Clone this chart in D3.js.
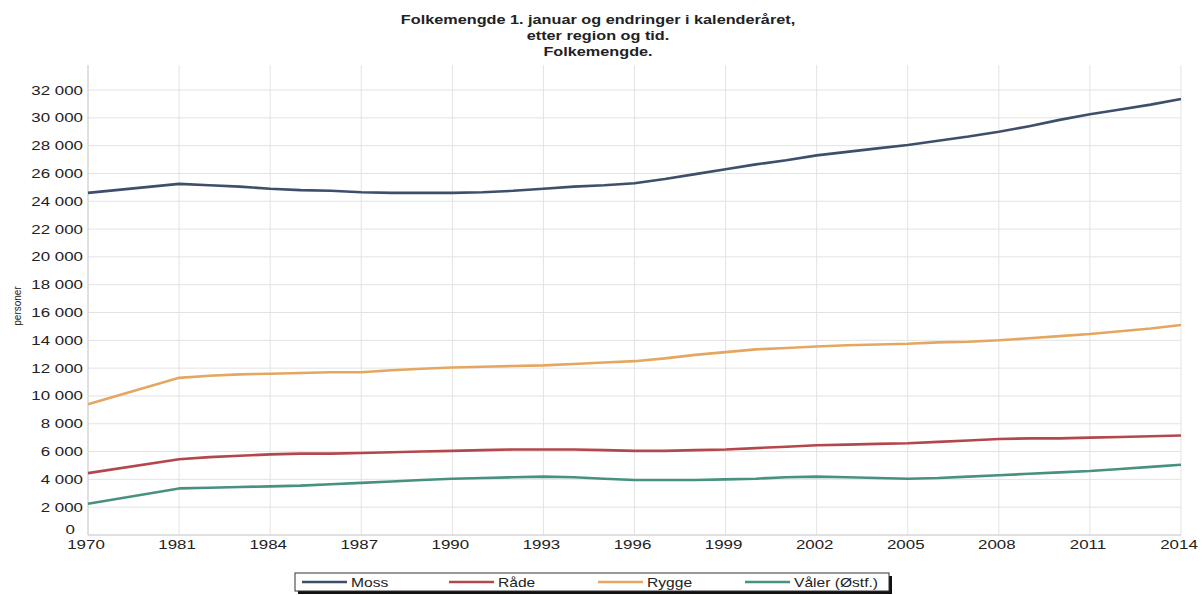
<!DOCTYPE html>
<html><head><meta charset="utf-8">
<script src="https://cdn.jsdelivr.net/npm/d3@7/dist/d3.min.js"></script>
<style>
body{margin:0;background:#fff;}
svg{display:block;}
text{font-family:"Liberation Sans",Arial,sans-serif;fill:#222;}
</style></head><body>
<svg id="chart" width="1204" height="595"></svg>
<script>
const years = [1970,1981,1982,1983,1984,1985,1986,1987,1988,1989,1990,1991,1992,1993,1994,1995,1996,1997,1998,1999,2000,2001,2002,2003,2004,2005,2006,2007,2008,2009,2010,2011,2012,2013,2014];
const xTickLabels = ["1970","1981","1984","1987","1990","1993","1996","1999","2002","2005","2008","2011","2014"];
const yTicks = [0,2000,4000,6000,8000,10000,12000,14000,16000,18000,20000,22000,24000,26000,28000,30000,32000];
const seriesNames = ["Moss","Råde","Rygge","Våler (Østf.)"];
const moss  = [24600,25250,25150,25050,24900,24800,24750,24650,24600,24600,24600,24650,24750,24900,25050,25150,25300,25600,25950,26300,26650,26950,27300,27550,27800,28050,28350,28650,29000,29400,29850,30250,30600,30950,31350];
const rade  = [4450,5450,5600,5700,5800,5850,5850,5900,5950,6000,6050,6100,6150,6150,6150,6100,6050,6050,6100,6150,6250,6350,6450,6500,6550,6600,6700,6800,6900,6950,6950,7000,7050,7100,7150];
const rygge = [9400,11300,11450,11550,11600,11650,11700,11700,11850,11950,12050,12100,12150,12200,12300,12400,12500,12700,12950,13150,13350,13450,13550,13650,13700,13750,13850,13900,14000,14150,14300,14450,14650,14850,15100];
const valer = [2250,3350,3400,3450,3500,3550,3650,3750,3850,3950,4050,4100,4150,4200,4150,4050,3950,3950,3950,4000,4050,4150,4200,4150,4100,4050,4100,4200,4300,4400,4500,4600,4750,4900,5050];
const colors = ["#3d4f6a","#b3474b","#e5a760","#48907f"];
const titleLines = ["Folkemengde 1. januar og endringer i kalenderåret,","etter region og tid.","Folkemengde."];
const yLabel = "personer";

const SX = 1.3; // horizontal text stretch seen in the reference
const svg = d3.select("#chart");
const pLeft = 88, pRight = 1181, pTop = 65, pBottom = 535;

// category slots: 1970 is three slots before 1981 on the category axis
const slotOf = yr => yr === 1970 ? 0 : (yr - 1981) + 3;
const x = d3.scaleLinear().domain([0, slotOf(2014)]).range([pLeft, pRight]);
const y = d3.scaleLinear().domain([0, 32000]).range([pBottom, 90]);

function stext(g, tx, ty, str, opts){
  const t = g.append("text")
    .attr("transform", `translate(${tx},${ty}) scale(${SX},1)`)
    .text(str);
  for (const k in opts) t.attr(k, opts[k]);
  return t;
}

// grid
const grid = svg.append("g");
yTicks.forEach(v => {
  grid.append("line").attr("x1", pLeft).attr("x2", pRight).attr("y1", y(v)).attr("y2", y(v))
    .attr("stroke", "#e3e3e3").attr("stroke-width", 1);
});
xTickLabels.forEach(l => {
  const px = x(slotOf(+l));
  grid.append("line").attr("x1", px).attr("x2", px).attr("y1", pTop).attr("y2", pBottom)
    .attr("stroke", "#e3e3e3").attr("stroke-width", 1);
});
// axes lines
svg.append("line").attr("x1", pLeft).attr("x2", pLeft).attr("y1", pTop).attr("y2", pBottom).attr("stroke", "#d0d0d0");
svg.append("line").attr("x1", pLeft).attr("x2", pRight).attr("y1", pBottom).attr("y2", pBottom).attr("stroke", "#d0d0d0");

// y tick labels
const fmt = v => d3.format(",")(v).replace(/,/g, "\u00a0");
const yl = svg.append("g");
yTicks.forEach(v => {
  if (v === 0) {
    stext(yl, 75, y(v) - 1, "0", {"text-anchor":"end","font-size":"13px","fill":"#333"});
  } else {
    stext(yl, 83, y(v) + 4.5, fmt(v), {"text-anchor":"end","font-size":"13px","fill":"#333"});
  }
});
// x tick labels
const xl = svg.append("g");
xTickLabels.forEach(l => {
  stext(xl, x(slotOf(+l)) - 2, 549, l, {"text-anchor":"middle","font-size":"13px","fill":"#333"});
});

// y axis title
svg.append("text").attr("transform", `translate(21,306) rotate(-90) scale(1,${SX*0.85})`)
  .attr("text-anchor","middle").attr("font-size","10px").attr("fill","#333").text(yLabel);

// title
titleLines.forEach((t, i) => {
  stext(svg, 598, 23.5 + i*16, t, {"text-anchor":"middle","font-size":"12.5px","font-weight":"bold","fill":"#333"});
});

// lines
const data = [moss, rade, rygge, valer];
const line = d3.line().x((d,i) => x(slotOf(years[i]))).y(d => y(d));
data.forEach((s, k) => {
  svg.append("path").datum(s).attr("d", line).attr("fill","none")
    .attr("stroke", colors[k]).attr("stroke-width", 2.6).attr("stroke-linejoin","round");
});

// legend
const lg = svg.append("g");
const lx = 295, ly = 573, lw = 594, lh = 18;
lg.append("rect").attr("x", lx+3).attr("y", ly+3).attr("width", lw).attr("height", lh).attr("fill", "#111");
lg.append("rect").attr("x", lx).attr("y", ly).attr("width", lw).attr("height", lh).attr("fill", "#fff").attr("stroke", "#333").attr("stroke-width", 1);
const itemX = [302, 449, 598, 745];
seriesNames.forEach((n, k) => {
  lg.append("line").attr("x1", itemX[k]).attr("x2", itemX[k]+45).attr("y1", ly+lh/2).attr("y2", ly+lh/2)
    .attr("stroke", colors[k]).attr("stroke-width", 2.4);
  stext(lg, itemX[k]+49, ly+lh/2+4.5, n, {"font-size":"12px","fill":"#333"});
});
</script>
</body></html>
